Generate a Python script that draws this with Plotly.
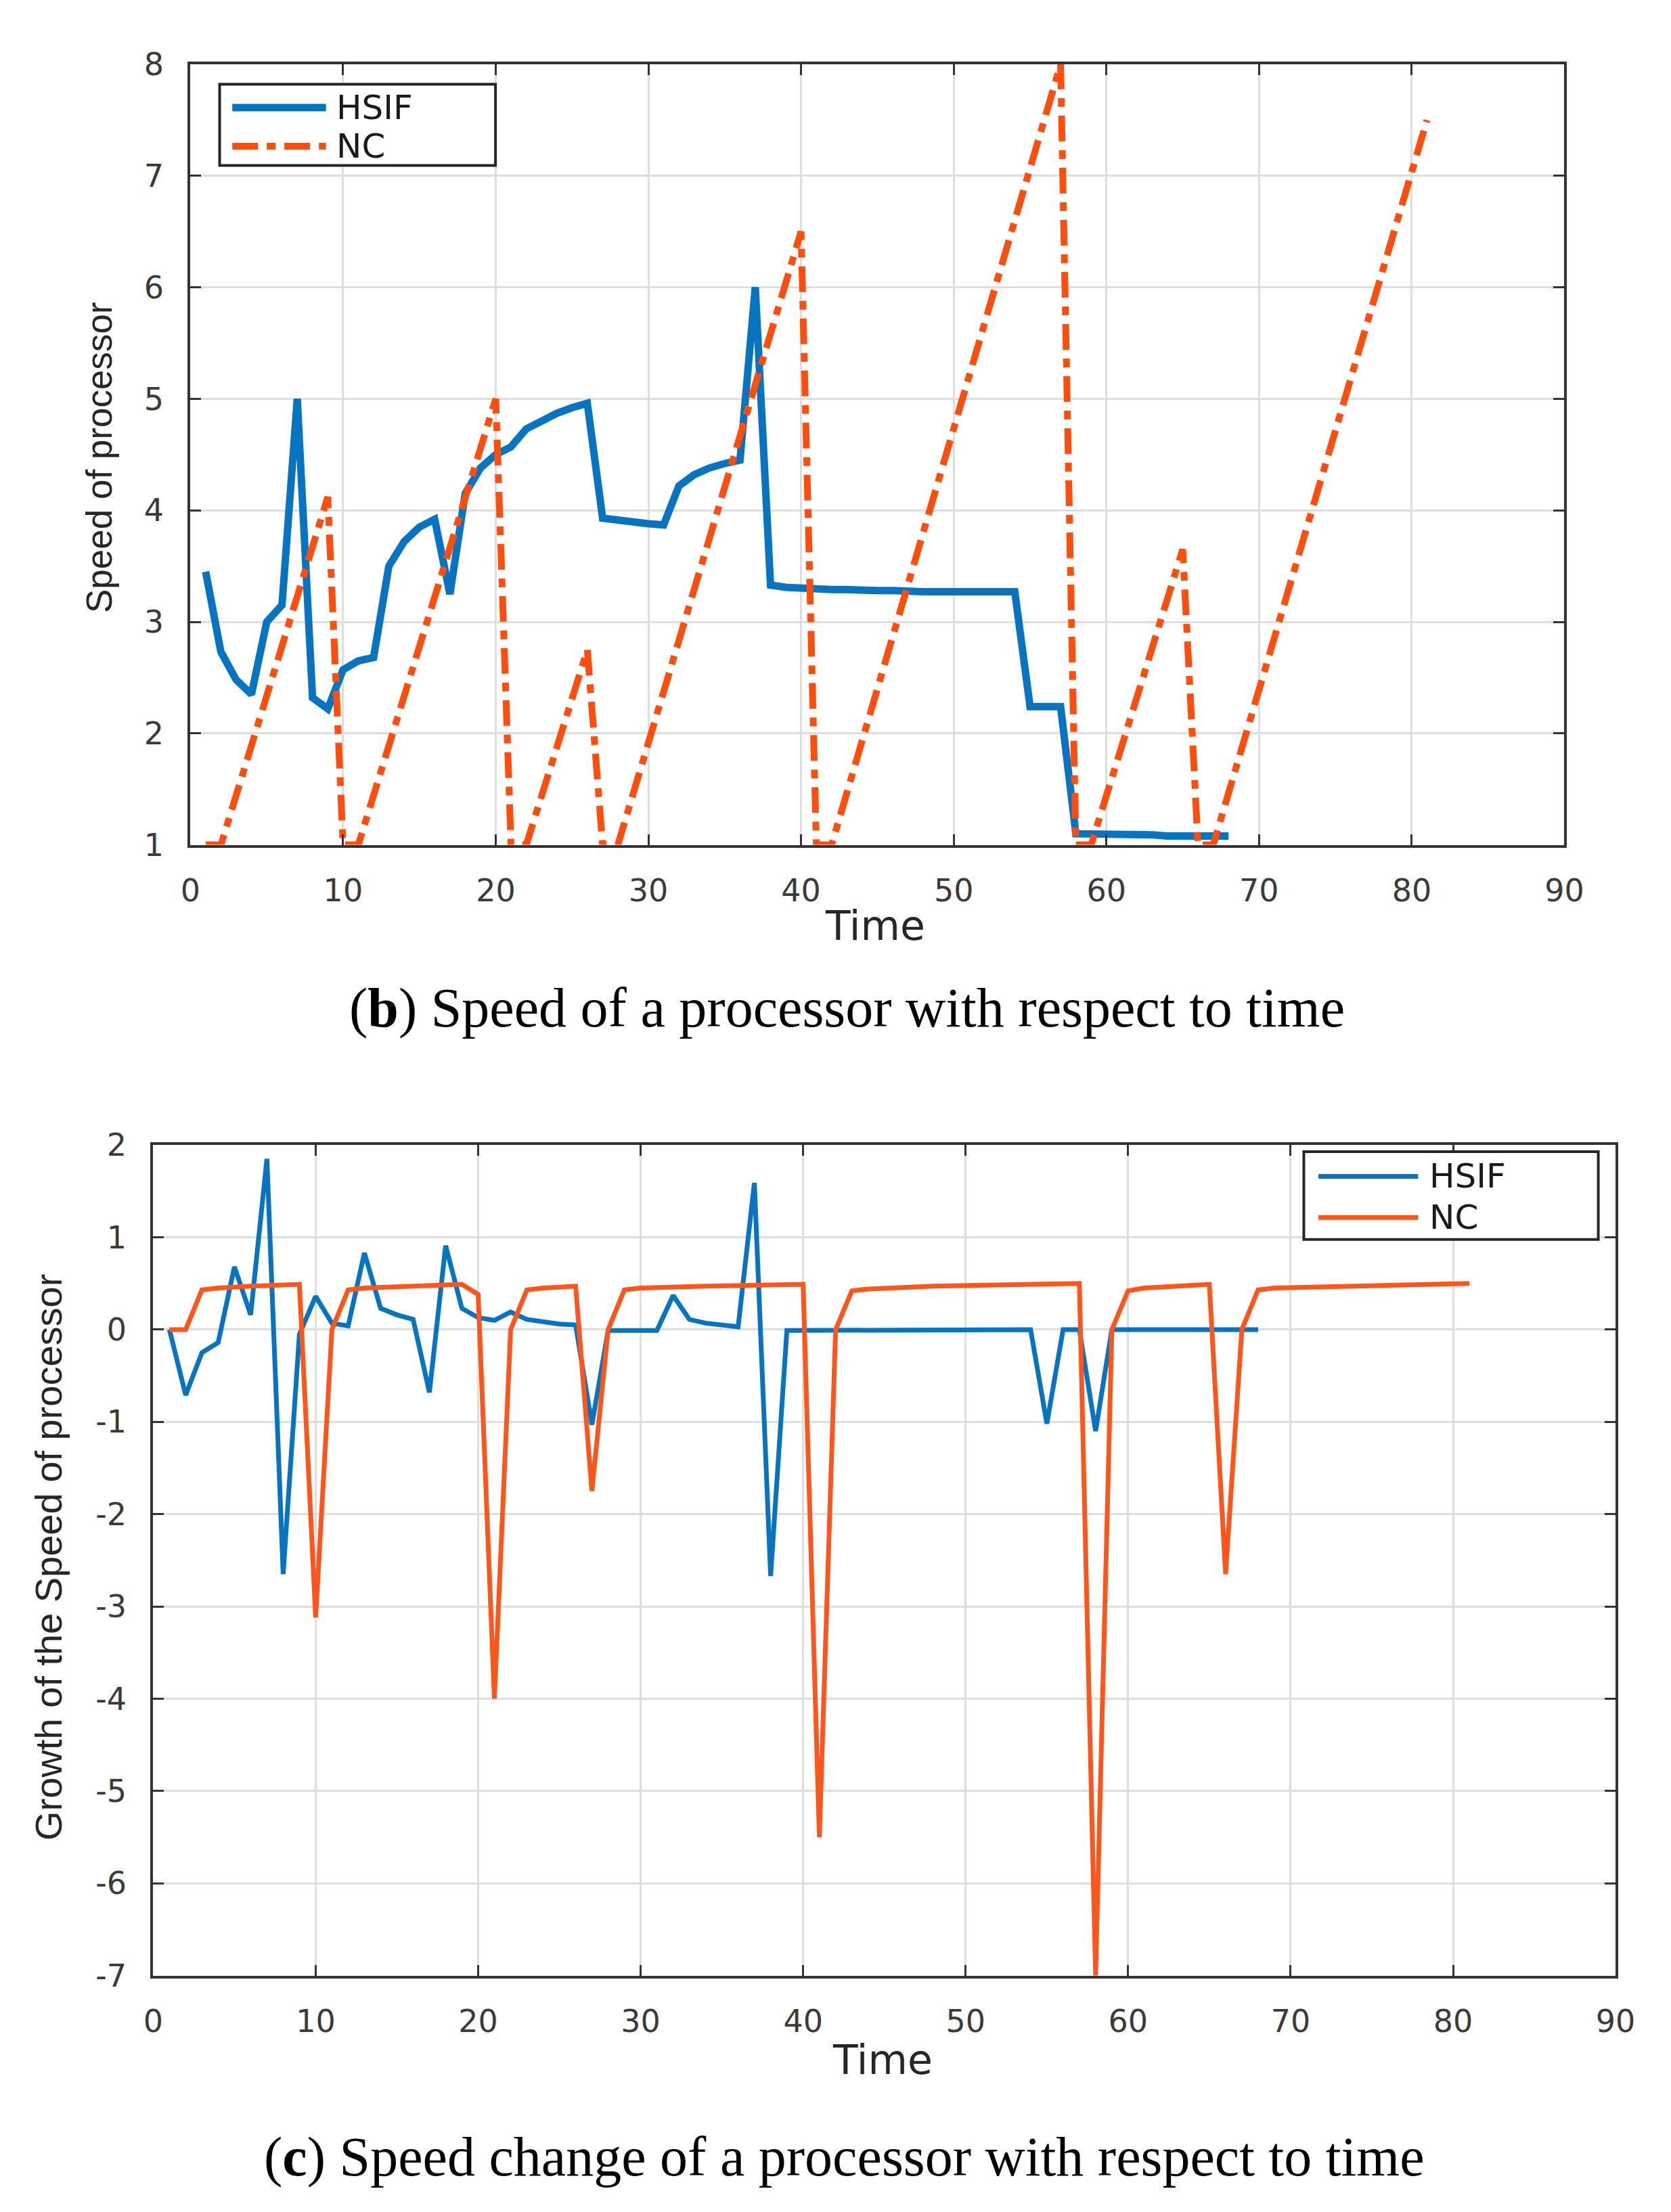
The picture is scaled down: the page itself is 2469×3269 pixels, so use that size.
import plotly.graph_objects as go

W, H = 2469, 3269

# ---------------- data ----------------
hsif_time = list(range(1, 69))
hsif_speed = [3.45, 2.73, 2.48, 2.35, 3.00, 3.15, 5.00, 2.32, 2.22, 2.57,
              2.65, 2.68, 3.50, 3.72, 3.85, 3.92, 3.25, 4.15, 4.38, 4.50,
              4.57, 4.73, 4.80, 4.87, 4.92, 4.96, 3.93, 3.91, 3.89, 3.88,
              3.87, 4.22, 4.32, 4.38, 4.42, 4.45, 6.00, 3.33, 3.31, 3.30,
              3.30, 3.29, 3.29, 3.28, 3.28, 3.28, 3.27, 3.27, 3.27, 3.27,
              3.27, 3.27, 3.27, 3.27, 2.24, 2.24, 2.24, 1.10, 1.10, 1.10,
              1.09, 1.09, 1.09, 1.08, 1.08, 1.08, 1.08, 1.08]

nc_time = [1, 2, 9, 10, 11, 20, 21, 22, 26, 27, 28, 40, 41, 42, 57, 58, 59, 65, 66, 67, 81]
nc_speed = [1.0, 1.0, 4.12, 1.0, 1.0, 5.0, 1.0, 1.0, 2.75, 1.0, 1.0, 6.5, 1.0, 1.0,
            8.0, 1.0, 1.0, 3.65, 1.0, 1.0, 7.5]

hsif_growth = [0, -0.71, -0.25, -0.14, 0.68, 0.16, 1.85, -2.65, -0.05, 0.36,
               0.07, 0.04, 0.83, 0.23, 0.16, 0.11, -0.68, 0.91, 0.23, 0.13,
               0.10, 0.19, 0.11, 0.08, 0.06, 0.05, -1.03, -0.01, -0.01, -0.01,
               -0.01, 0.37, 0.11, 0.07, 0.05, 0.03, 1.59, -2.67, -0.01, -0.01,
               0, 0, 0, 0, 0, 0, 0, 0, 0, 0,
               0, 0, 0, 0, -1.02, 0, 0, -1.10, 0, 0,
               0, 0, 0, 0, 0, 0, 0, 0]

nc_growth_time = [1, 2, 3, 4, 6, 9, 10, 11, 12, 13, 16, 19, 20, 21, 22, 23, 24, 26,
                  27, 28, 29, 30, 34, 40, 41, 42, 43, 44, 48, 57, 58, 59, 60, 61, 65,
                  66, 67, 68, 69, 73, 81]
nc_growth = [0, 0, 0.43, 0.45, 0.47, 0.49, -3.12, 0, 0.43, 0.45, 0.47, 0.49, 0.38,
             -4.0, 0, 0.43, 0.45, 0.47, -1.75, 0, 0.43, 0.45, 0.47, 0.49, -5.5, 0,
             0.42, 0.44, 0.47, 0.5, -7.0, 0, 0.42, 0.45, 0.49, -2.65, 0, 0.43, 0.45,
             0.47, 0.5]

x_ticks = [0, 10, 20, 30, 40, 50, 60, 70, 80, 90]
y1_ticks = [1, 2, 3, 4, 5, 6, 7, 8]
y2_ticks = [-7, -6, -5, -4, -3, -2, -1, 0, 1, 2]
y2_tick_labels = ["-7", "-6", "-5", "-4", "-3", "-2", "-1", "0", "1", "2"]

series_names = ["HSIF", "NC"]
caption_b = "(<b>b</b>) Speed of a processor with respect to time"
caption_c = "(<b>c</b>) Speed change of a processor with respect to time"

# ---------------- style ----------------
BLUE = "#0674c0"
ORANGE_TOP = "#fd4e0e"
ORANGE_BOT = "#fd561c"
NC_DASH = "38px,13px,13px,13px"
AXC = "#333333"
GRID = "#dedede"
TICKFONT = dict(family="DejaVu Sans", size=46, color="#3a3a3a")
LABFONT = dict(family="Liberation Sans", color="#262626")


def px(x):
    return x / W


def py(y):
    return 1 - y / H


fig = go.Figure()

fig.add_trace(go.Scatter(x=hsif_time, y=hsif_speed, mode="lines", name=series_names[0],
                         line=dict(color=BLUE, width=11), xaxis="x", yaxis="y",
                         showlegend=False))
fig.add_trace(go.Scatter(x=nc_time, y=nc_speed, mode="lines", name=series_names[1],
                         line=dict(color=ORANGE_TOP, width=10, dash=NC_DASH),
                         xaxis="x", yaxis="y", showlegend=False))
fig.add_trace(go.Scatter(x=hsif_time, y=hsif_growth, mode="lines", name=series_names[0],
                         line=dict(color=BLUE, width=7), xaxis="x2", yaxis="y2",
                         showlegend=False))
fig.add_trace(go.Scatter(x=nc_growth_time, y=nc_growth, mode="lines", name=series_names[1],
                         line=dict(color=ORANGE_BOT, width=7), xaxis="x2", yaxis="y2",
                         showlegend=False))

axis_common = dict(showgrid=True, gridcolor=GRID, gridwidth=3, showline=True,
                   linecolor=AXC, linewidth=4, mirror="ticks", ticks="inside",
                   ticklen=16, tickwidth=3, tickcolor=AXC, zeroline=False,
                   tickfont=TICKFONT)

fig.update_layout(
    width=W, height=H, autosize=False,
    margin=dict(l=0, r=0, t=0, b=0),
    paper_bgcolor="white", plot_bgcolor="white",
    showlegend=False,
    xaxis=dict(domain=[px(263), px(2330)], range=[0, 90], tickvals=x_ticks,
               anchor="y", ticklabelstandoff=24, **axis_common),
    yaxis=dict(domain=[py(1234), py(61)], range=[1, 8], tickvals=y1_ticks,
               anchor="x", ticklabelstandoff=26, **axis_common),
    xaxis2=dict(domain=[px(207), px(2407)], range=[0, 90], tickvals=x_ticks,
                anchor="y2", ticklabelstandoff=24, **axis_common),
    yaxis2=dict(domain=[py(2933), py(1685)], range=[-7, 2], tickvals=y2_ticks,
                ticktext=y2_tick_labels, anchor="x2", ticklabelstandoff=26,
                **axis_common),
)

ann = []
# axis titles
ann.append(dict(text="Time", x=px(1293), y=py(1355), xref="paper", yref="paper",
                showarrow=False, xanchor="center", yanchor="middle",
                font=dict(family="DejaVu Sans", size=60, color="#262626")))
ann.append(dict(text="Time", x=px(1304), y=py(3060), xref="paper", yref="paper",
                showarrow=False, xanchor="center", yanchor="middle",
                font=dict(family="DejaVu Sans", size=60, color="#262626")))
ann.append(dict(text="Speed of processor", x=px(125), y=py(652), xref="paper", yref="paper",
                showarrow=False, xanchor="center", yanchor="middle", textangle=-90,
                font=dict(size=53, **LABFONT)))
ann.append(dict(text="Growth of the Speed of processor", x=px(50), y=py(2305),
                xref="paper", yref="paper", showarrow=False, xanchor="center",
                yanchor="middle", textangle=-90, font=dict(size=56, **LABFONT)))
# captions
ann.append(dict(text=caption_b, x=px(1251), y=py(1479), xref="paper", yref="paper",
                showarrow=False, xanchor="center", yanchor="middle",
                font=dict(family="Liberation Serif", size=82, color="black")))
ann.append(dict(text=caption_c, x=px(1247), y=py(3205), xref="paper", yref="paper",
                showarrow=False, xanchor="center", yanchor="middle",
                font=dict(family="Liberation Serif", size=82, color="black")))

shapes = []
# legend (top)
shapes.append(dict(type="rect", xref="paper", yref="paper", x0=px(307), x1=px(722),
                   y0=py(213), y1=py(91), line=dict(color="#262626", width=4),
                   fillcolor="white", layer="above"))
shapes.append(dict(type="line", xref="paper", yref="paper", x0=px(326), x1=px(467),
                   y0=py(126), y1=py(126), line=dict(color=BLUE, width=11), layer="above"))
shapes.append(dict(type="line", xref="paper", yref="paper", x0=px(326), x1=px(467),
                   y0=py(184), y1=py(184), line=dict(color=ORANGE_TOP, width=10, dash=NC_DASH),
                   layer="above"))
ann.append(dict(text=series_names[0], x=px(481), y=py(126), xref="paper", yref="paper",
                showarrow=False, xanchor="left", yanchor="middle",
                font=dict(family="DejaVu Sans", size=50, color="#1a1a1a")))
ann.append(dict(text=series_names[1], x=px(481), y=py(184), xref="paper", yref="paper",
                showarrow=False, xanchor="left", yanchor="middle",
                font=dict(family="DejaVu Sans", size=50, color="#1a1a1a")))
# legend (bottom)
shapes.append(dict(type="rect", xref="paper", yref="paper", x0=px(1938), x1=px(2381),
                   y0=py(1827), y1=py(1695), line=dict(color="#262626", width=4),
                   fillcolor="white", layer="above"))
shapes.append(dict(type="line", xref="paper", yref="paper", x0=px(1960), x1=px(2110),
                   y0=py(1732), y1=py(1732), line=dict(color=BLUE, width=7), layer="above"))
shapes.append(dict(type="line", xref="paper", yref="paper", x0=px(1960), x1=px(2110),
                   y0=py(1794), y1=py(1794), line=dict(color=ORANGE_BOT, width=7),
                   layer="above"))
ann.append(dict(text=series_names[0], x=px(2125), y=py(1732), xref="paper", yref="paper",
                showarrow=False, xanchor="left", yanchor="middle",
                font=dict(family="DejaVu Sans", size=50, color="#1a1a1a")))
ann.append(dict(text=series_names[1], x=px(2125), y=py(1794), xref="paper", yref="paper",
                showarrow=False, xanchor="left", yanchor="middle",
                font=dict(family="DejaVu Sans", size=50, color="#1a1a1a")))

fig.update_layout(annotations=ann, shapes=shapes)

fig.write_html("out.html")
